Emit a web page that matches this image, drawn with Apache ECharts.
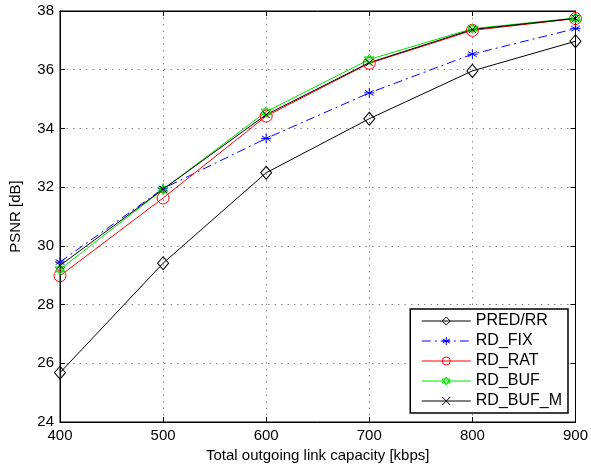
<!DOCTYPE html>
<html>
<head>
<meta charset="utf-8">
<script src="https://cdn.jsdelivr.net/npm/echarts@6/dist/echarts.min.js"></script>
<style>
  html, body { margin: 0; padding: 0; background: #fff; }
  #chart { width: 591px; height: 468px; }
</style>
</head>
<body>
<div id="chart"></div>
<script>
// Link capacity (kbps) and PSNR (dB) per scheduling scheme
const capacities = [400, 500, 600, 700, 800, 900];
const predRR  = [25.68, 29.41, 32.49, 34.33, 35.96, 36.97];
const rdFix   = [29.45, 31.95, 33.66, 35.21, 36.53, 37.40];
const rdRat   = [28.98, 31.63, 34.42, 36.22, 37.34, 37.74];
const rdBuf   = [29.20, 31.92, 34.57, 36.35, 37.40, 37.76];
const rdBufM  = [29.33, 31.93, 34.47, 36.24, 37.37, 37.75];

const pairs = arr => capacities.map((c, i) => [c, arr[i]]);

const SYM = {
  diamond: 'path://M0,-1L1,0L0,1L-1,0Z',
  asterisk: 'path://M0,-10L0,10M-8.66,-5L8.66,5M-8.66,5L8.66,-5M-10,0L10,0',
  hexagram: 'path://M0,-10L8.66,5L-8.66,5ZM0,10L8.66,-5L-8.66,-5Z',
  cross: 'path://M-1,-1L1,1M-1,1L1,-1'
};

function makeSeries(name, data, color, symbol, size, lineType) {
  return {
    name, type: 'line', data: pairs(data),
    symbol, symbolSize: size, showAllSymbol: true,
    lineStyle: { color, width: 1, type: lineType || 'solid' },
    itemStyle: { color: 'rgba(0,0,0,0)', borderColor: color, borderWidth: 1 },
    emphasis: { disabled: true },
    animation: false
  };
}

const font = 'Liberation Sans, Arial, sans-serif';
const gridDots = { show: true, lineStyle: { color: '#8a8a8a', type: [1.5, 5], width: 1 } };
const ticks = { show: true, inside: true, length: 5, lineStyle: { color: '#000' } };

const chart = echarts.init(document.getElementById('chart'));
chart.setOption({
  animation: false,
  grid: { left: 56, right: 13, top: 11, bottom: 45, show: true, borderColor: '#000', borderWidth: 1 },
  xAxis: [{
    type: 'value', min: 400, max: 900, interval: 100,
    name: 'Total outgoing link capacity [kbps]', nameLocation: 'middle', nameGap: 26,
    nameTextStyle: { fontFamily: font, fontSize: 15, color: '#000' },
    axisLine: { show: true, onZero: false, lineStyle: { color: '#000' } },
    axisTick: ticks,
    axisLabel: { fontFamily: font, fontSize: 15, color: '#000', margin: 6 },
    splitLine: gridDots
  }, {
    type: 'value', position: 'top', min: 400, max: 900, interval: 100,
    axisLine: { show: true, onZero: false, lineStyle: { color: '#000' } },
    axisTick: ticks, axisLabel: { show: false }, splitLine: { show: false }
  }],
  yAxis: [{
    type: 'value', min: 24, max: 38, interval: 2,
    name: 'PSNR [dB]', nameLocation: 'middle', nameGap: 37, nameRotate: 90,
    nameTextStyle: { fontFamily: font, fontSize: 15, color: '#000' },
    axisLine: { show: true, onZero: false, lineStyle: { color: '#000' } },
    axisTick: ticks,
    axisLabel: { fontFamily: font, fontSize: 15, color: '#000', margin: 6 },
    splitLine: gridDots
  }, {
    type: 'value', position: 'right', min: 24, max: 38, interval: 2,
    axisLine: { show: true, onZero: false, lineStyle: { color: '#000' } },
    axisTick: ticks, axisLabel: { show: false }, splitLine: { show: false }
  }],
  legend: {
    orient: 'vertical', right: 23, bottom: 55,
    backgroundColor: '#fff', borderColor: '#000', borderWidth: 1.5,
    padding: [4, 6, 4, 11], itemGap: 4, itemWidth: 49, itemHeight: 10,
    lineStyle: { width: 1 },
    itemStyle: { borderWidth: 1 },
    textStyle: { fontFamily: font, fontSize: 16, color: '#000' },
    data: ['PRED/RR', 'RD_FIX', 'RD_RAT', 'RD_BUF', 'RD_BUF_M']
  },
  series: [
    makeSeries('PRED/RR', predRR, '#000', SYM.diamond, [11, 13]),
    makeSeries('RD_FIX', rdFix, '#0000ff', SYM.asterisk, 10, [9, 4, 2, 4]),
    makeSeries('RD_RAT', rdRat, '#ff0000', 'circle', 12),
    makeSeries('RD_BUF', rdBuf, '#00e000', SYM.hexagram, 10),
    makeSeries('RD_BUF_M', rdBufM, '#000', SYM.cross, 7)
  ]
});
</script>
</body>
</html>
